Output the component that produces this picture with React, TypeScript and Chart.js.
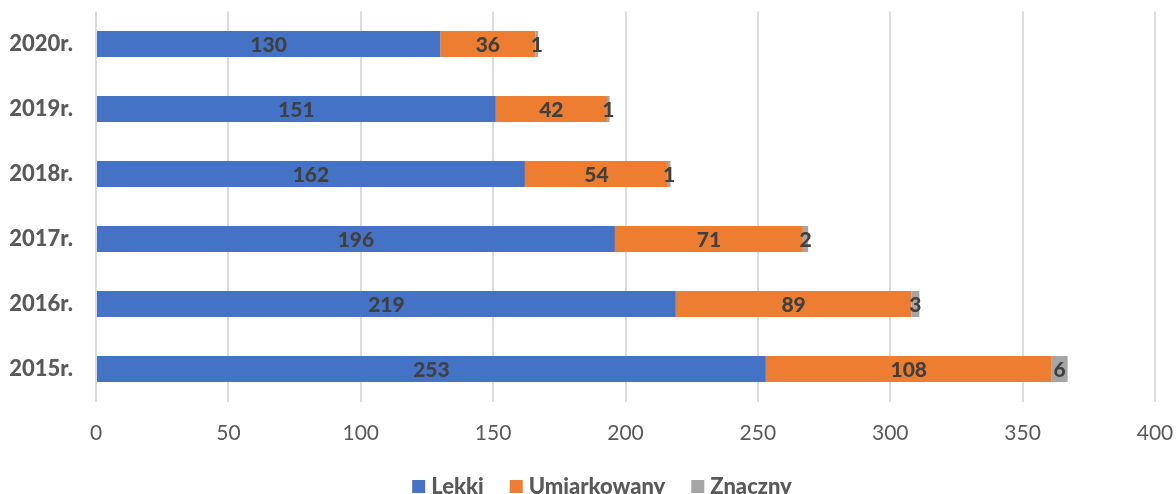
import React, { useEffect, useRef } from "react";
import { Chart, registerables } from "chart.js";

Chart.register(...registerables);

const years = ["2020r.", "2019r.", "2018r.", "2017r.", "2016r.", "2015r."];
const lekki = [130, 151, 162, 196, 219, 253];
const umiarkowany = [36, 42, 54, 71, 89, 108];
const znaczny = [1, 1, 1, 2, 3, 6];
const seriesNames = ["Lekki", "Umiarkowany", "Znaczny"];
const seriesColors = ["#4472C4", "#ED7D31", "#A5A5A5"];

const FONT = "Lato, 'Open Sans', sans-serif";

const labelPlugin = {
  id: "segLabels",
  afterDatasetsDraw(chart: any) {
    const ctx = chart.ctx;
    ctx.save();
    ctx.font = `900 21px ${FONT}`;
    ctx.fillStyle = "#404040";
    ctx.textAlign = "center";
    ctx.textBaseline = "middle";
    chart.data.datasets.forEach((ds: any, di: number) => {
      const meta = chart.getDatasetMeta(di);
      meta.data.forEach((el: any, i: number) => {
        const v = ds.data[i];
        const cx = (el.x + el.base) / 2;
        ctx.fillText(String(v), cx, el.y + 1);
      });
    });
    ctx.restore();
  },
};

const legendPlugin = {
  id: "customLegend",
  afterDraw(chart: any) {
    const ctx = chart.ctx;
    ctx.save();
    ctx.font = `900 22px ${FONT}`;
    const box = 13;
    const gapText = 6;
    const gapItem = 26;
    const widths = seriesNames.map((n) => ctx.measureText(n).width);
    const total =
      widths.reduce((a, b) => a + b, 0) +
      seriesNames.length * (box + gapText) +
      (seriesNames.length - 1) * gapItem;
    let x = 602 - total / 2;
    const boxTop = chart.height - 14;
    const textY = boxTop + 7;
    ctx.textBaseline = "middle";
    ctx.textAlign = "left";
    seriesNames.forEach((n, i) => {
      ctx.fillStyle = seriesColors[i];
      ctx.fillRect(x, boxTop, box, box);
      x += box + gapText;
      ctx.fillStyle = "#595959";
      ctx.fillText(n, x, textY);
      x += widths[i] + gapItem;
    });
    ctx.restore();
  },
};

export default function App() {
  const ref = useRef<HTMLCanvasElement | null>(null);
  useEffect(() => {
    if (!ref.current) return;
    const data = [lekki, umiarkowany, znaczny];
    const chart = new Chart(ref.current, {
      type: "bar",
      data: {
        labels: years,
        datasets: seriesNames.map((n, i) => ({
          label: n,
          data: data[i],
          backgroundColor: seriesColors[i],
          borderWidth: 0,
          barPercentage: 0.4,
          categoryPercentage: 1,
        })),
      },
      options: {
        indexAxis: "y",
        animation: false,
        responsive: true,
        maintainAspectRatio: false,
        layout: { padding: { top: 11.5, right: 21, left: 0, bottom: 52.5 } },
        scales: {
          x: {
            stacked: true,
            min: 0,
            max: 400,
            ticks: {
              stepSize: 50,
              color: "#595959",
              font: { family: FONT, size: 21 },
              padding: 19,
            },
            grid: { color: "#dcdcdc", lineWidth: 2, drawTicks: false },
            border: { display: false },
            afterFit: (s: any) => {
              s.height = 40;
              s.paddingLeft = 0;
              s.paddingRight = 0;
            },
          },
          y: {
            stacked: true,
            ticks: {
              color: "#595959",
              font: { family: FONT, size: 22, weight: "900" },
              padding: 23,
            },
            grid: { display: false, drawTicks: false },
            border: { display: false },
            afterFit: (s: any) => {
              s.width = 96;
              s.paddingTop = 0;
              s.paddingBottom = 0;
            },
          },
        },
        plugins: {
          legend: { display: false },
          tooltip: { enabled: false },
        },
      },
      plugins: [labelPlugin, legendPlugin],
    });
    return () => chart.destroy();
  }, []);
  return (
    <div style={{ position: "absolute", left: 0, top: 0, width: 1176, height: 494 }}>
      <canvas ref={ref} />
    </div>
  );
}
